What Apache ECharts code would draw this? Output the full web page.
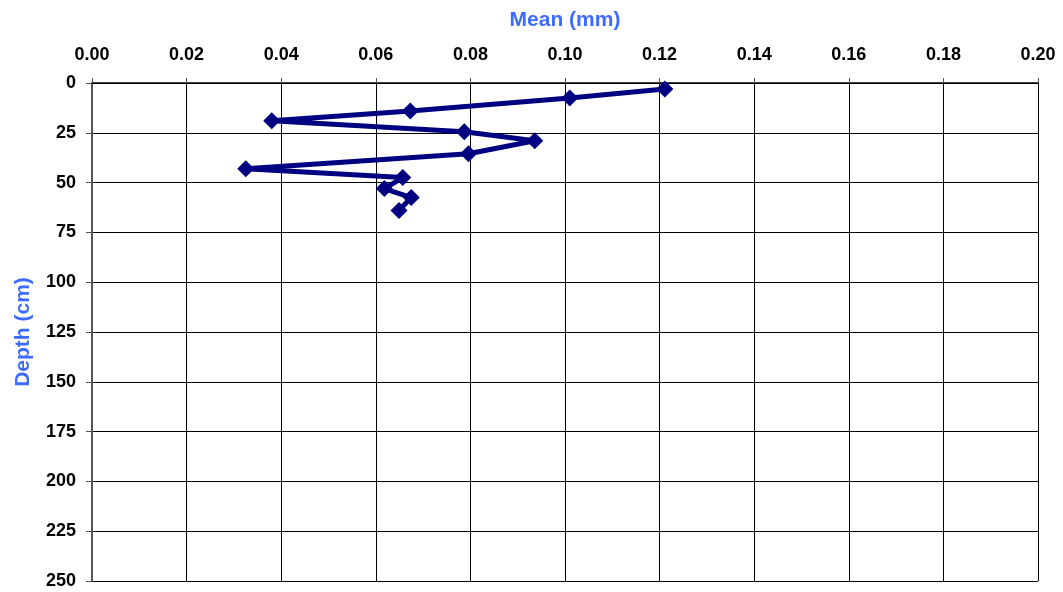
<!DOCTYPE html>
<html>
<head>
<meta charset="utf-8">
<script src="https://cdn.jsdelivr.net/npm/echarts@6/dist/echarts.min.js"></script>
<style>html,body{margin:0;padding:0;background:#fff}#c{width:1063px;height:592px}</style>
</head>
<body>
<div id="c"></div>
<script>
const meanMm = [0.1211, 0.1010, 0.0673, 0.0380, 0.0787, 0.0936, 0.0796, 0.0325, 0.0657, 0.0618, 0.0675, 0.0649];
const depthCm = [3, 7.5, 14, 19, 24.5, 29, 35.5, 43, 47.5, 53, 57.5, 64];
const xTitle = 'Mean (mm)';
const yTitle = 'Depth (cm)';

const chart = echarts.init(document.getElementById('c'));
const font = 'Liberation Sans, Arial, sans-serif';
chart.setOption({
  animation: false,
  backgroundColor: '#fff',
  grid: { left: 92, right: 25, top: 83, bottom: 11, containLabel: false },
  xAxis: {
    type: 'value', position: 'top', min: 0, max: 0.2, interval: 0.02,
    name: xTitle, nameLocation: 'middle', nameGap: 52,
    nameTextStyle: { color: '#3d6bff', fontSize: 21, fontWeight: 'bold', fontFamily: font },
    axisLine: { show: true, lineStyle: { color: '#000', width: 1.5 } },
    axisTick: { show: true, length: 5, lineStyle: { color: '#555' } },
    axisLabel: { formatter: v => v.toFixed(2), color: '#000', fontSize: 18, fontWeight: 'bold', fontFamily: font, margin: 19 },
    splitLine: { show: true, lineStyle: { color: '#000', width: 1 } }
  },
  yAxis: {
    type: 'value', inverse: true, min: 0, max: 250, interval: 25,
    name: yTitle, nameLocation: 'middle', nameGap: 58, nameRotate: 90,
    nameTextStyle: { color: '#3d6bff', fontSize: 21, fontWeight: 'bold', fontFamily: font },
    axisLine: { show: true, lineStyle: { color: '#555', width: 2 } },
    axisTick: { show: true, length: 6, lineStyle: { color: '#555' } },
    axisLabel: { color: '#000', fontSize: 18, fontWeight: 'bold', fontFamily: font, margin: 16 },
    splitLine: { show: true, lineStyle: { color: '#000', width: 1 } }
  },
  series: [{
    type: 'line',
    data: meanMm.map((v, i) => [v, depthCm[i]]),
    symbol: 'diamond', symbolSize: 17,
    lineStyle: { color: '#000080', width: 5 },
    itemStyle: { color: '#000080' },
    z: 5
  }]
});
</script>
</body>
</html>
